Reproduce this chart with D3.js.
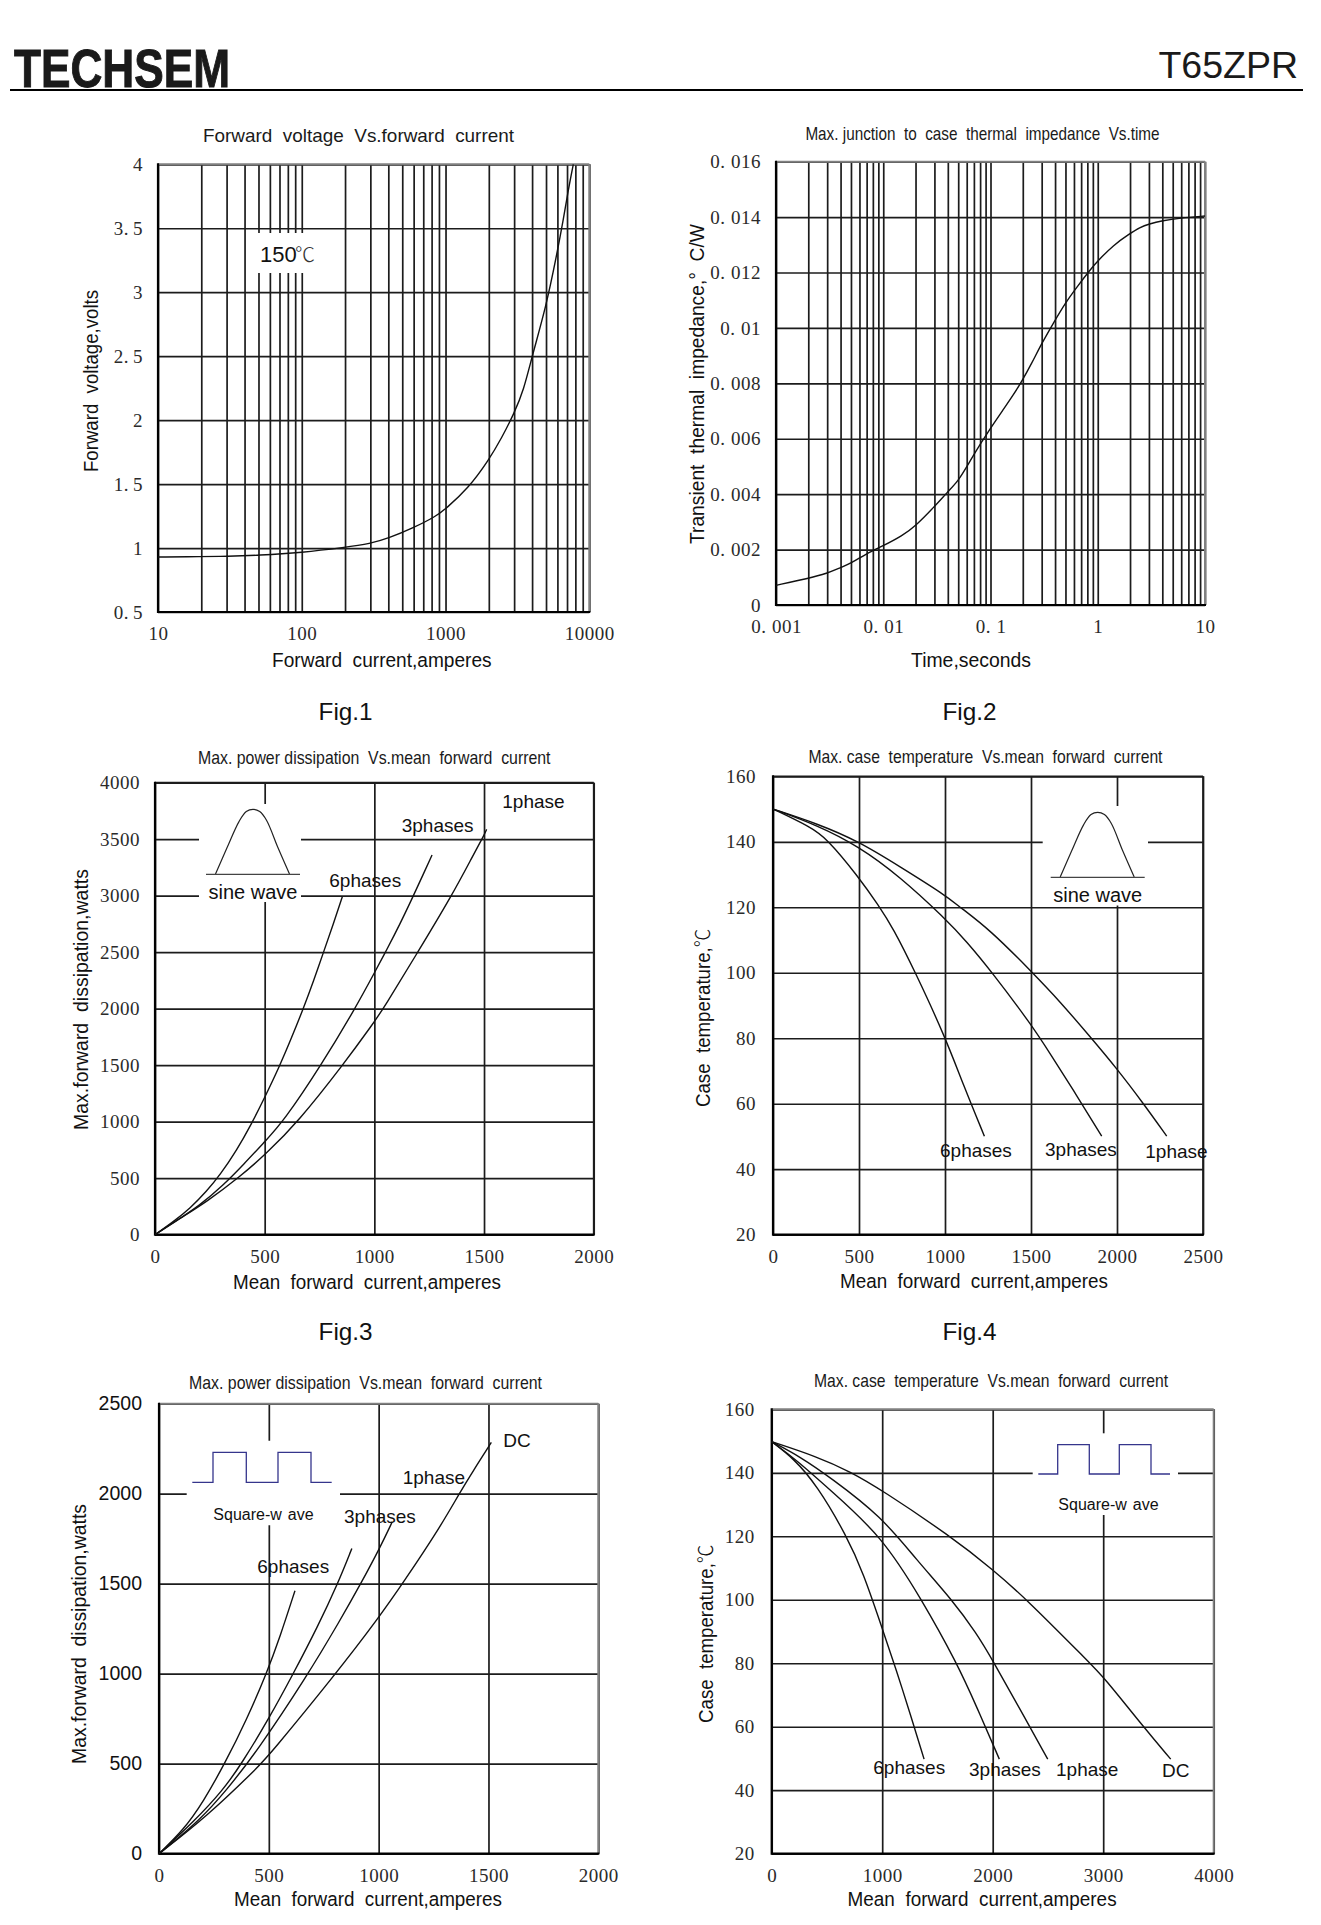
<!DOCTYPE html>
<html>
<head>
<meta charset="utf-8">
<script src="https://cdn.jsdelivr.net/npm/d3@7/dist/d3.min.js"></script>
<style>
html,body{margin:0;padding:0;background:#fff}
svg{display:block}
text{white-space:pre}
</style>
</head>
<body>
<svg id="page" width="1321" height="1925" xmlns="http://www.w3.org/2000/svg"></svg>
<script>
// ---------- Fig.1 data ----------
const fig1Current = [10,20,30,50,100,200,300,400,600,850,1000,1440,2000,2450,3000,3500,4000,5000,5900,6590,7140,7740];
const fig1Voltage = [0.93,0.933,0.935,0.943,0.964,1.005,1.034,1.076,1.159,1.245,1.305,1.467,1.688,1.858,2.053,2.236,2.5,2.887,3.278,3.565,3.8,4.0];
const fig1XTicks = [10,20,30,40,50,60,70,80,90,100,200,300,400,500,600,700,800,900,1000,2000,3000,4000,5000,6000,7000,8000,9000,10000];
const fig1XLabels = [10,100,1000,10000];
const fig1YTicks = [0.5,1,1.5,2,2.5,3,3.5,4];

// ---------- Fig.2 data ----------
const fig2Time = [0.001,0.002,0.003,0.004,0.005,0.007,0.01,0.015,0.02,0.03,0.04,0.05,0.06,0.074,0.093,0.132,0.163,0.195,0.242,0.3,0.385,0.495,0.66,0.847,1,1.4,1.95,2.48,3,4,5.85,10];
const fig2Impedance = [0.00071,0.00096,0.00114,0.00135,0.0015,0.00186,0.00214,0.0025,0.00285,0.00355,0.00409,0.00448,0.00499,0.00559,0.0062,0.00706,0.00758,0.00806,0.00872,0.00944,0.01017,0.01089,0.01155,0.01209,0.01242,0.01299,0.01338,0.01363,0.01375,0.01387,0.01397,0.01404];
const fig2XTicks = [0.001,0.002,0.003,0.004,0.005,0.006,0.007,0.008,0.009,0.01,0.02,0.03,0.04,0.05,0.06,0.07,0.08,0.09,0.1,0.2,0.3,0.4,0.5,0.6,0.7,0.8,0.9,1,2,3,4,5,6,7,8,9,10];
const fig2XLabels = [0.001,0.01,0.1,1,10];
const fig2YTicks = [0,0.002,0.004,0.006,0.008,0.01,0.012,0.014,0.016];

// ---------- Fig.3 data ----------
const fig3Current6 = [0,84,160,236,296,372,441,494,570,623,676,722,770,813,854];
const fig3Power6 = [0,115,233,386,528,745,985,1190,1500,1745,2000,2240,2510,2750,2991];
const fig3Current3 = [0,84,205,312,403,501,585,760,912,1003,1056,1117,1178,1223,1263];
const fig3Power3 = [0,106,260,440,620,825,1000,1507,2000,2327,2520,2750,3000,3190,3360];
const fig3Current1 = [0,114,236,387,501,653,859,995,1041,1201,1353,1451,1498,1512];
const fig3Power1 = [0,145,292,513,705,1000,1507,1870,2000,2510,3000,3360,3528,3587];
const fig3XTicks = [0,500,1000,1500,2000];
const fig3YTicks = [0,500,1000,1500,2000,2500,3000,3500,4000];

// ---------- Fig.4 data ----------
const fig4Current1 = [0,254,496,738,1000,1078,1262,1504,1669,1843,1998,2153,2289];
const fig4Temp1 = [150,145.6,140.2,132.4,123.75,120.4,113.1,100.3,91.2,80.5,70.8,60.1,50.1];
const fig4Current3 = [0,254,496,738,1000,1126,1271,1504,1610,1765,1911];
const fig4Temp3 = [150,145.1,138.7,129.35,116.6,109.5,100.3,84,75.4,62.6,50.1];
const fig4Current6 = [0,215,312,496,612,699,826,1000,1107,1229];
const fig4Temp6 = [150,144.6,141.1,129.35,120.7,113.6,100.3,80.5,65.7,50.1];
const fig4XTicks = [0,500,1000,1500,2000,2500];
const fig4YTicks = [20,40,60,80,100,120,140,160];

// ---------- Fig.5 data ----------
const fig5CurrentDC = [0,217,445,502,801,998,1112,1279,1370,1431,1513];
const fig5PowerDC = [0,206,474,548,993,1307,1506,1812,2007,2128,2285];
const fig5Current1 = [0,187,308,445,672,824,923,1006,1062];
const fig5Power1 = [0,187,354,567,983,1295,1510,1700,1844];
const fig5Current3 = [0,156,293,376,505,612,720,816,878];
const fig5Power3 = [0,175,355,500,760,1002,1255,1506,1696];
const fig5Current6 = [0,111,202,300,399,490,551,619];
const fig5Power6 = [0,131,289,502,745,1002,1205,1461];
const fig5XTicks = [0,500,1000,1500,2000];
const fig5YTicks = [0,500,1000,1500,2000,2500];

// ---------- Fig.6 data ----------
const fig6CurrentDC = [0,407,709,995,1614,2006,2308,2866,3002,3363,3611];
const fig6TempDC = [149.8,145.1,140.4,134.6,120.1,109.4,100.1,80.5,75.8,60,49.8];
const fig6Current1 = [0,256,528,995,1312,1629,1855,2006,2217,2498];
const fig6Temp1 = [149.8,145.1,138.6,126.2,112.5,100.1,89.4,80.5,67.4,49.8];
const fig6Current3 = [0,226,528,995,1357,1674,1855,2060];
const fig6Temp3 = [149.8,144,134.6,120.1,100.1,80.2,66.3,49.8];
const fig6Current6 = [0,196,407,679,830,995,1131,1252,1379];
const fig6Temp6 = [149.8,144.6,136.2,120.1,108.3,91.5,77.5,64.2,49.8];
const fig6XTicks = [0,1000,2000,3000,4000];
const fig6YTicks = [20,40,60,80,100,120,140,160];

// ---------- Inset icon outline (local units) ----------
const bellU = [-37.5,-26,-14,-6.7,0,6.7,13.5,25,36.5];
const bellV = [64.7,38.5,12.3,2.3,0,2.3,11,38.5,64.7];

const pairs = (a,b) => a.map((v,i)=>[v,b[i]]);
const svg = d3.select("#page");
const SERIF = '"Liberation Serif",serif';
const SANS = '"Liberation Sans","Noto Sans CJK SC",sans-serif';
const CJK = '"Noto Sans CJK SC",sans-serif';

function txt(parent,s,x,y,size,opt={}){
  const t = parent.append("text").attr("x",x).attr("y",y).style("font-size",size+"px")
    .style("font-family",opt.family||SANS).attr("fill",opt.fill||"#111").text(s);
  if(opt.len){t.attr("textLength",opt.len).attr("lengthAdjust",opt.adj||"spacingAndGlyphs");}
  if(opt.anchor) t.attr("text-anchor",opt.anchor);
  return t;
}

// Header
txt(svg,"TECHSEM",14,87,54,{len:216,fill:"#1a1a1a"}).style("font-weight","bold")
  .attr("stroke","#1a1a1a").attr("stroke-width",1);
txt(svg,"T65ZPR",1298,78,37.5,{anchor:"end",fill:"#1a1a1a"});
svg.append("line").attr("x1",10).attr("x2",1303).attr("y1",90).attr("y2",90).attr("stroke","#000").attr("stroke-width",2);

function chart(c){
  const x = (c.logX?d3.scaleLog():d3.scaleLinear()).domain(c.xDomain).range([c.l,c.r]);
  const y = d3.scaleLinear().domain(c.yDomain).range([c.b,c.t]);
  const g = svg.append("g");
  const w = c.r-c.l, h = c.b-c.t;
  const dotted = s => { const i=s.indexOf("."); if(i<0) return null;
    return Array.from(s,(ch,k)=>k===i+1?c.dotGap:0).join(" "); };

  const xAxis = d3.axisBottom(x).tickValues(c.xTicks).tickSizeInner(-h).tickSizeOuter(0).tickPadding(15)
    .tickFormat(d => (c.xLabels? (c.xLabels.includes(d)?String(d):"") : String(d)));
  const yAxis = d3.axisLeft(y).tickValues(c.yTicks).tickSizeInner(-w).tickSizeOuter(0).tickPadding(c.yPad)
    .tickFormat(d => String(d));
  const gx = g.append("g").attr("transform",`translate(0,${c.b})`).call(xAxis);
  const gy = g.append("g").attr("transform",`translate(${c.l},0)`).call(yAxis);
  [gx,gy].forEach(a=>{
    a.select(".domain").remove();
    a.selectAll("line").attr("stroke","#1c1c1c").attr("stroke-width",1.7);
  });
  gx.selectAll("text").style("font-family",SERIF).style("font-size","19px").style("letter-spacing","0.5px").attr("fill","#2a2a2a")
    .attr("dx",function(){return dotted(this.textContent);});
  gy.selectAll("text").style("font-family",c.ySans?SANS:SERIF).style("font-size",c.ySans?"19.5px":"19px")
    .style("letter-spacing",c.ySans?"0":"0.5px")
    .attr("fill",c.ySans?"#111":"#2a2a2a").attr("dx",function(){return dotted(this.textContent);});

  // white patches behind insets
  (c.patches||[]).forEach(p=>g.append("rect").attr("x",p[0]).attr("y",p[1]).attr("width",p[2]).attr("height",p[3])
      .attr("rx",p[4]||0).attr("fill","#fff"));

  // frame
  const frame=(x1,y1,x2,y2,col,sw)=>g.append("line").attr("x1",x1).attr("y1",y1).attr("x2",x2).attr("y2",y2).attr("stroke",col).attr("stroke-width",sw);
  frame(c.l,c.t,c.r,c.t,c.frameCol,c.frameW);
  frame(c.r,c.t,c.r,c.b,c.frameCol,c.frameW);
  frame(c.l,c.t-1,c.l,c.b+1,"#000",2.2);
  frame(c.l,c.b,c.r+1,c.b,"#000",2.2);

  // curves
  const line = d3.line().x(d=>x(d[0])).y(d=>y(d[1])).curve(d3.curveBasis);
  c.series.forEach(s=>g.append("path").attr("d",line(s)).attr("fill","none").attr("stroke","#111").attr("stroke-width",1.4));

  // bell icon
  if(c.bell){
    const b=c.bell, bl=d3.line().curve(d3.curveCatmullRom.alpha(0.5));
    g.append("path").attr("d",bl(bellU.map((u,i)=>[b.cx+u,b.top+bellV[i]]))).attr("fill","none").attr("stroke","#222").attr("stroke-width",1.2);
    frame(b.cx-47,b.top+65,b.cx+47,b.top+65,"#444",1.3);
  }
  // square-wave icon
  if(c.square){
    const q=c.square;
    const pts=[[q.x0,q.low],[q.xs[0],q.low],[q.xs[0],q.high],[q.xs[1],q.high],[q.xs[1],q.low],[q.xs[2],q.low],[q.xs[2],q.high],[q.xs[3],q.high],[q.xs[3],q.low],[q.xe,q.low]];
    g.append("path").attr("d",d3.line()(pts)).attr("fill","none").attr("stroke","#35358c").attr("stroke-width",1.3);
  }

  // texts
  txt(g,c.title[0],c.title[1],c.title[3],19,{len:c.title[2]-c.title[1],fill:"#1a1a1a"});
  txt(g,c.xTitle[0],c.xTitle[1],c.xTitle[3],20.5,{len:c.xTitle[2]-c.xTitle[1]});
  const yl=c.yTitle[3]-c.yTitle[2];
  const yt=g.append("text").attr("transform",`translate(${c.yTitle[1]},${(c.yTitle[2]+c.yTitle[3])/2}) rotate(-90)`)
    .attr("text-anchor","middle").attr("dy","0.36em").style("font-size","20.5px").style("font-family",SANS).attr("fill","#111")
    .attr("textLength",yl).attr("lengthAdjust","spacingAndGlyphs");
  const parts=c.yTitle[0].split("℃");
  yt.append("tspan").text(parts[0]);
  if(parts.length>1) yt.append("tspan").style("font-family",CJK).style("font-weight","300").text("℃");
  (c.labels||[]).forEach(l=>{
    const t=txt(g,l[0],l[1],l[2],l[3]||19,{anchor:l[4]});
    if(l[5]) t.attr("dx",l[5]);
  });
  if(c.fig) txt(g,c.fig[0],c.fig[1],c.fig[2],24.3,{fill:"#111"});
  return g;
}

// Fig.1
const g1 = chart({
  l:158,r:589.3,t:164.3,b:612,logX:true,xDomain:[10,10000],yDomain:[0.5,4],
  xTicks:fig1XTicks,xLabels:fig1XLabels,yTicks:fig1YTicks,yPad:15,dotGap:4,
  frameCol:"#808080",frameW:2,
  series:[pairs(fig1Current,fig1Voltage)],
  patches:[[257,233,61,40]],
  title:["Forward  voltage  Vs.forward  current",203,514,142],
  xTitle:["Forward  current,amperes",272,491.6,667],
  yTitle:["Forward  voltage,volts",91,290,472],
  fig:["Fig.1",318.6,720]
});
txt(g1,"150",260,262,22);
txt(g1,"℃",295,262,20,{fill:"#333",family:CJK}).style("font-weight","300");

// Fig.2
chart({
  l:776,r:1205,t:161.7,b:605,logX:true,xDomain:[0.001,10],yDomain:[0,0.016],
  xTicks:fig2XTicks,xLabels:fig2XLabels,yTicks:fig2YTicks,yPad:15,dotGap:5.5,
  frameCol:"#808080",frameW:2,
  series:[pairs(fig2Time,fig2Impedance)],
  title:["Max. junction  to  case  thermal  impedance  Vs.time",805.4,1159.6,139.5],
  xTitle:["Time,seconds",911,1031,667],
  yTitle:["Transient  thermal  impedance,°  C/W",697,224,544],
  fig:["Fig.2",942.5,720]
});

// Fig.3
chart({
  l:155,r:593.7,t:782.7,b:1234.7,xDomain:[0,2000],yDomain:[0,4000],
  xTicks:fig3XTicks,yTicks:fig3YTicks,yPad:15,dotGap:4,
  frameCol:"#1c1c1c",frameW:1.7,
  series:[pairs(fig3Current6,fig3Power6),pairs(fig3Current3,fig3Power3),pairs(fig3Current1,fig3Power1)],
  patches:[[199,804,102,98]],
  bell:{cx:253,top:809.3},
  title:["Max. power dissipation  Vs.mean  forward  current",198,550.5,764],
  xTitle:["Mean  forward  current,amperes",233,501,1289],
  yTitle:["Max.forward  dissipation,watts",81,869,1130],
  labels:[["sine wave",253,899,20,"middle"],["1phase",502.3,807.7],["3phases",401.7,831.7],["6phases",329.3,886.7]],
  fig:["Fig.3",318.6,1340]
});

// Fig.4
chart({
  l:773,r:1203,t:776.3,b:1234.7,xDomain:[0,2500],yDomain:[20,160],
  xTicks:fig4XTicks,yTicks:fig4YTicks,yPad:17,dotGap:4,
  frameCol:"#1c1c1c",frameW:1.7,
  series:[pairs(fig4Current1,fig4Temp1),pairs(fig4Current3,fig4Temp3),pairs(fig4Current6,fig4Temp6)],
  patches:[[1042.7,806,105.3,99.5]],
  bell:{cx:1097.7,top:812.3},
  title:["Max. case  temperature  Vs.mean  forward  current",808.4,1162.5,763],
  xTitle:["Mean  forward  current,amperes",840,1108,1288],
  yTitle:["Case  temperature,℃",703,928.6,1107],
  labels:[["sine wave",1097.7,901.7,20,"middle"],["6phases",940,1156.7],["3phases",1045,1156],["1phase",1145.3,1157.7]],
  fig:["Fig.4",942.5,1340]
});

// Fig.5
chart({
  l:159,r:598.3,t:1403.7,b:1853.7,xDomain:[0,2000],yDomain:[0,2500],
  xTicks:fig5XTicks,yTicks:fig5YTicks,yPad:17,ySans:true,dotGap:4,
  frameCol:"#808080",frameW:2,
  series:[pairs(fig5CurrentDC,fig5PowerDC),pairs(fig5Current1,fig5Power1),pairs(fig5Current3,fig5Power3),pairs(fig5Current6,fig5Power6)],
  patches:[[186.7,1440.7,153.3,84.5,8]],
  square:{x0:192.3,xs:[213,246.3,278,311],xe:331.7,low:1482.3,high:1452.3},
  title:["Max. power dissipation  Vs.mean  forward  current",189,542,1389],
  xTitle:["Mean  forward  current,amperes",234,502,1906],
  yTitle:["Max.forward  dissipation,watts",79,1504,1764],
  labels:[["Square-wave",213.3,1520,16,null,"0 0 0 0 0 0 0 0 6 0 0"],["DC",503.3,1447.3],["1phase",402.7,1484.3],["3phases",344,1523.3],["6phases",257.3,1573.3]]
});

// Fig.6
chart({
  l:771.7,r:1213.7,t:1409.3,b:1853.7,xDomain:[0,4000],yDomain:[20,160],
  xTicks:fig6XTicks,yTicks:fig6YTicks,yPad:17,dotGap:4,
  frameCol:"#808080",frameW:2,
  series:[pairs(fig6CurrentDC,fig6TempDC),pairs(fig6Current1,fig6Temp1),pairs(fig6Current3,fig6Temp3),pairs(fig6Current6,fig6Temp6)],
  patches:[[1032.7,1433.3,145.3,81.7]],
  square:{x0:1038.3,xs:[1057.7,1089.3,1119.3,1151],xe:1170,low:1474,high:1444.7},
  title:["Max. case  temperature  Vs.mean  forward  current",814,1168,1387],
  xTitle:["Mean  forward  current,amperes",847.6,1116.6,1906],
  yTitle:["Case  temperature,℃",706,1544.5,1723],
  labels:[["Square-wave",1058.3,1510,16,null,"0 0 0 0 0 0 0 0 6 0 0"],["6phases",873.3,1774],["3phases",969,1776],["1phase",1056,1776],["DC",1162,1776.7]]
});
</script>
</body>
</html>
